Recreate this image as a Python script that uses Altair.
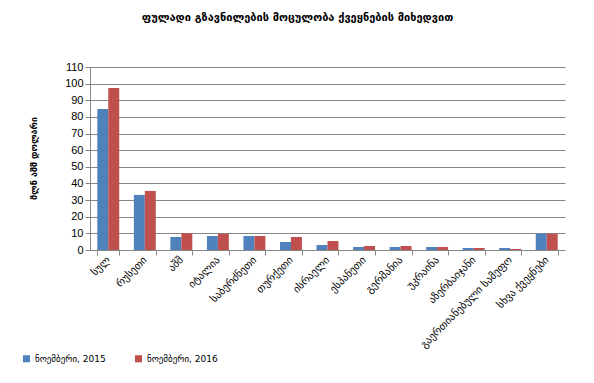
import altair as alt
import pandas as pd

categories = ["სულ", "რუსეთი", "აშშ", "იტალია", "საბერძნეთი", "თურქეთი", "ისრაელი",
              "ესპანეთი", "გერმანია", "უკრაინა", "აზერბაიჯანი", "გაერთიანებული სამეფო", "სხვა ქვეყნები"]
v2015 = [84.8, 33.1, 7.8, 8.4, 8.4, 4.8, 3.0, 1.8, 1.8, 1.8, 1.2, 1.2, 9.8]
v2016 = [97.4, 35.5, 10.1, 9.8, 8.4, 7.8, 5.4, 2.4, 2.4, 1.8, 1.2, 0.6, 9.8]
series = ["ნოემბერი, 2015", "ნოემბერი, 2016"]

rows = []
for c, a, b in zip(categories, v2015, v2016):
    rows.append({"country": c, "series": series[0], "value": a})
    rows.append({"country": c, "series": series[1], "value": b})
df = pd.DataFrame(rows)

FONT = "DejaVu Sans"

chart = alt.Chart(df).mark_bar().encode(
    x=alt.X("country:N", sort=categories, title=None,
            scale=alt.Scale(paddingInner=0.4, paddingOuter=0.2),
            axis=alt.Axis(labelAngle=-45, labelAlign="right", labelBaseline="middle",
                          labelFontSize=10.5, labelFont=FONT, labelColor="#000000",
                          tickBand="extent", tickSize=5, tickColor="#868686",
                          domainColor="#868686", labelPadding=3, grid=False,
                          labelLimit=250, labelOverlap=False)),
    xOffset=alt.XOffset("series:N", sort=series),
    y=alt.Y("value:Q", title="მლნ აშშ დოლარი",
            scale=alt.Scale(domain=[0, 110], nice=False),
            axis=alt.Axis(values=list(range(0, 111, 10)), tickSize=5, tickColor="#868686",
                          domainColor="#868686", gridColor="#868686", gridWidth=1,
                          labelFontSize=11, labelFont="Liberation Sans", labelColor="#000000",
                          titleFont=FONT, titleFontSize=9, titleFontWeight="bold",
                          titleColor="#000000", titleX=-57, titleY=91, titleAngle=-90,
                          titleAlign="center", titleBaseline="middle")),
    color=alt.Color("series:N", sort=series,
                    scale=alt.Scale(domain=series, range=["#4F81BD", "#C0504D"]),
                    legend=alt.Legend(title=None, orient="none", direction="horizontal",
                                      legendX=-68, legendY=287, symbolType="square",
                                      symbolSize=50, symbolStrokeWidth=0,
                                      labelFont=FONT, labelFontSize=9, labelColor="#000000",
                                      columnPadding=28)),
).properties(
    width=475, height=183,
    title=alt.TitleParams("ფულადი გზავნილების მოცულობა ქვეყნების მიხედვით",
                          font=FONT, fontSize=11, fontWeight="bold", color="#000000",
                          anchor="middle", dx=-30, offset=38),
    padding={"left": 82, "top": 59, "right": 21, "bottom": 122},
    autosize=alt.AutoSizeParams(type="none"),
).configure_view(stroke=None)

chart.save("out.html", embed_options={"renderer": "svg", "actions": False})
